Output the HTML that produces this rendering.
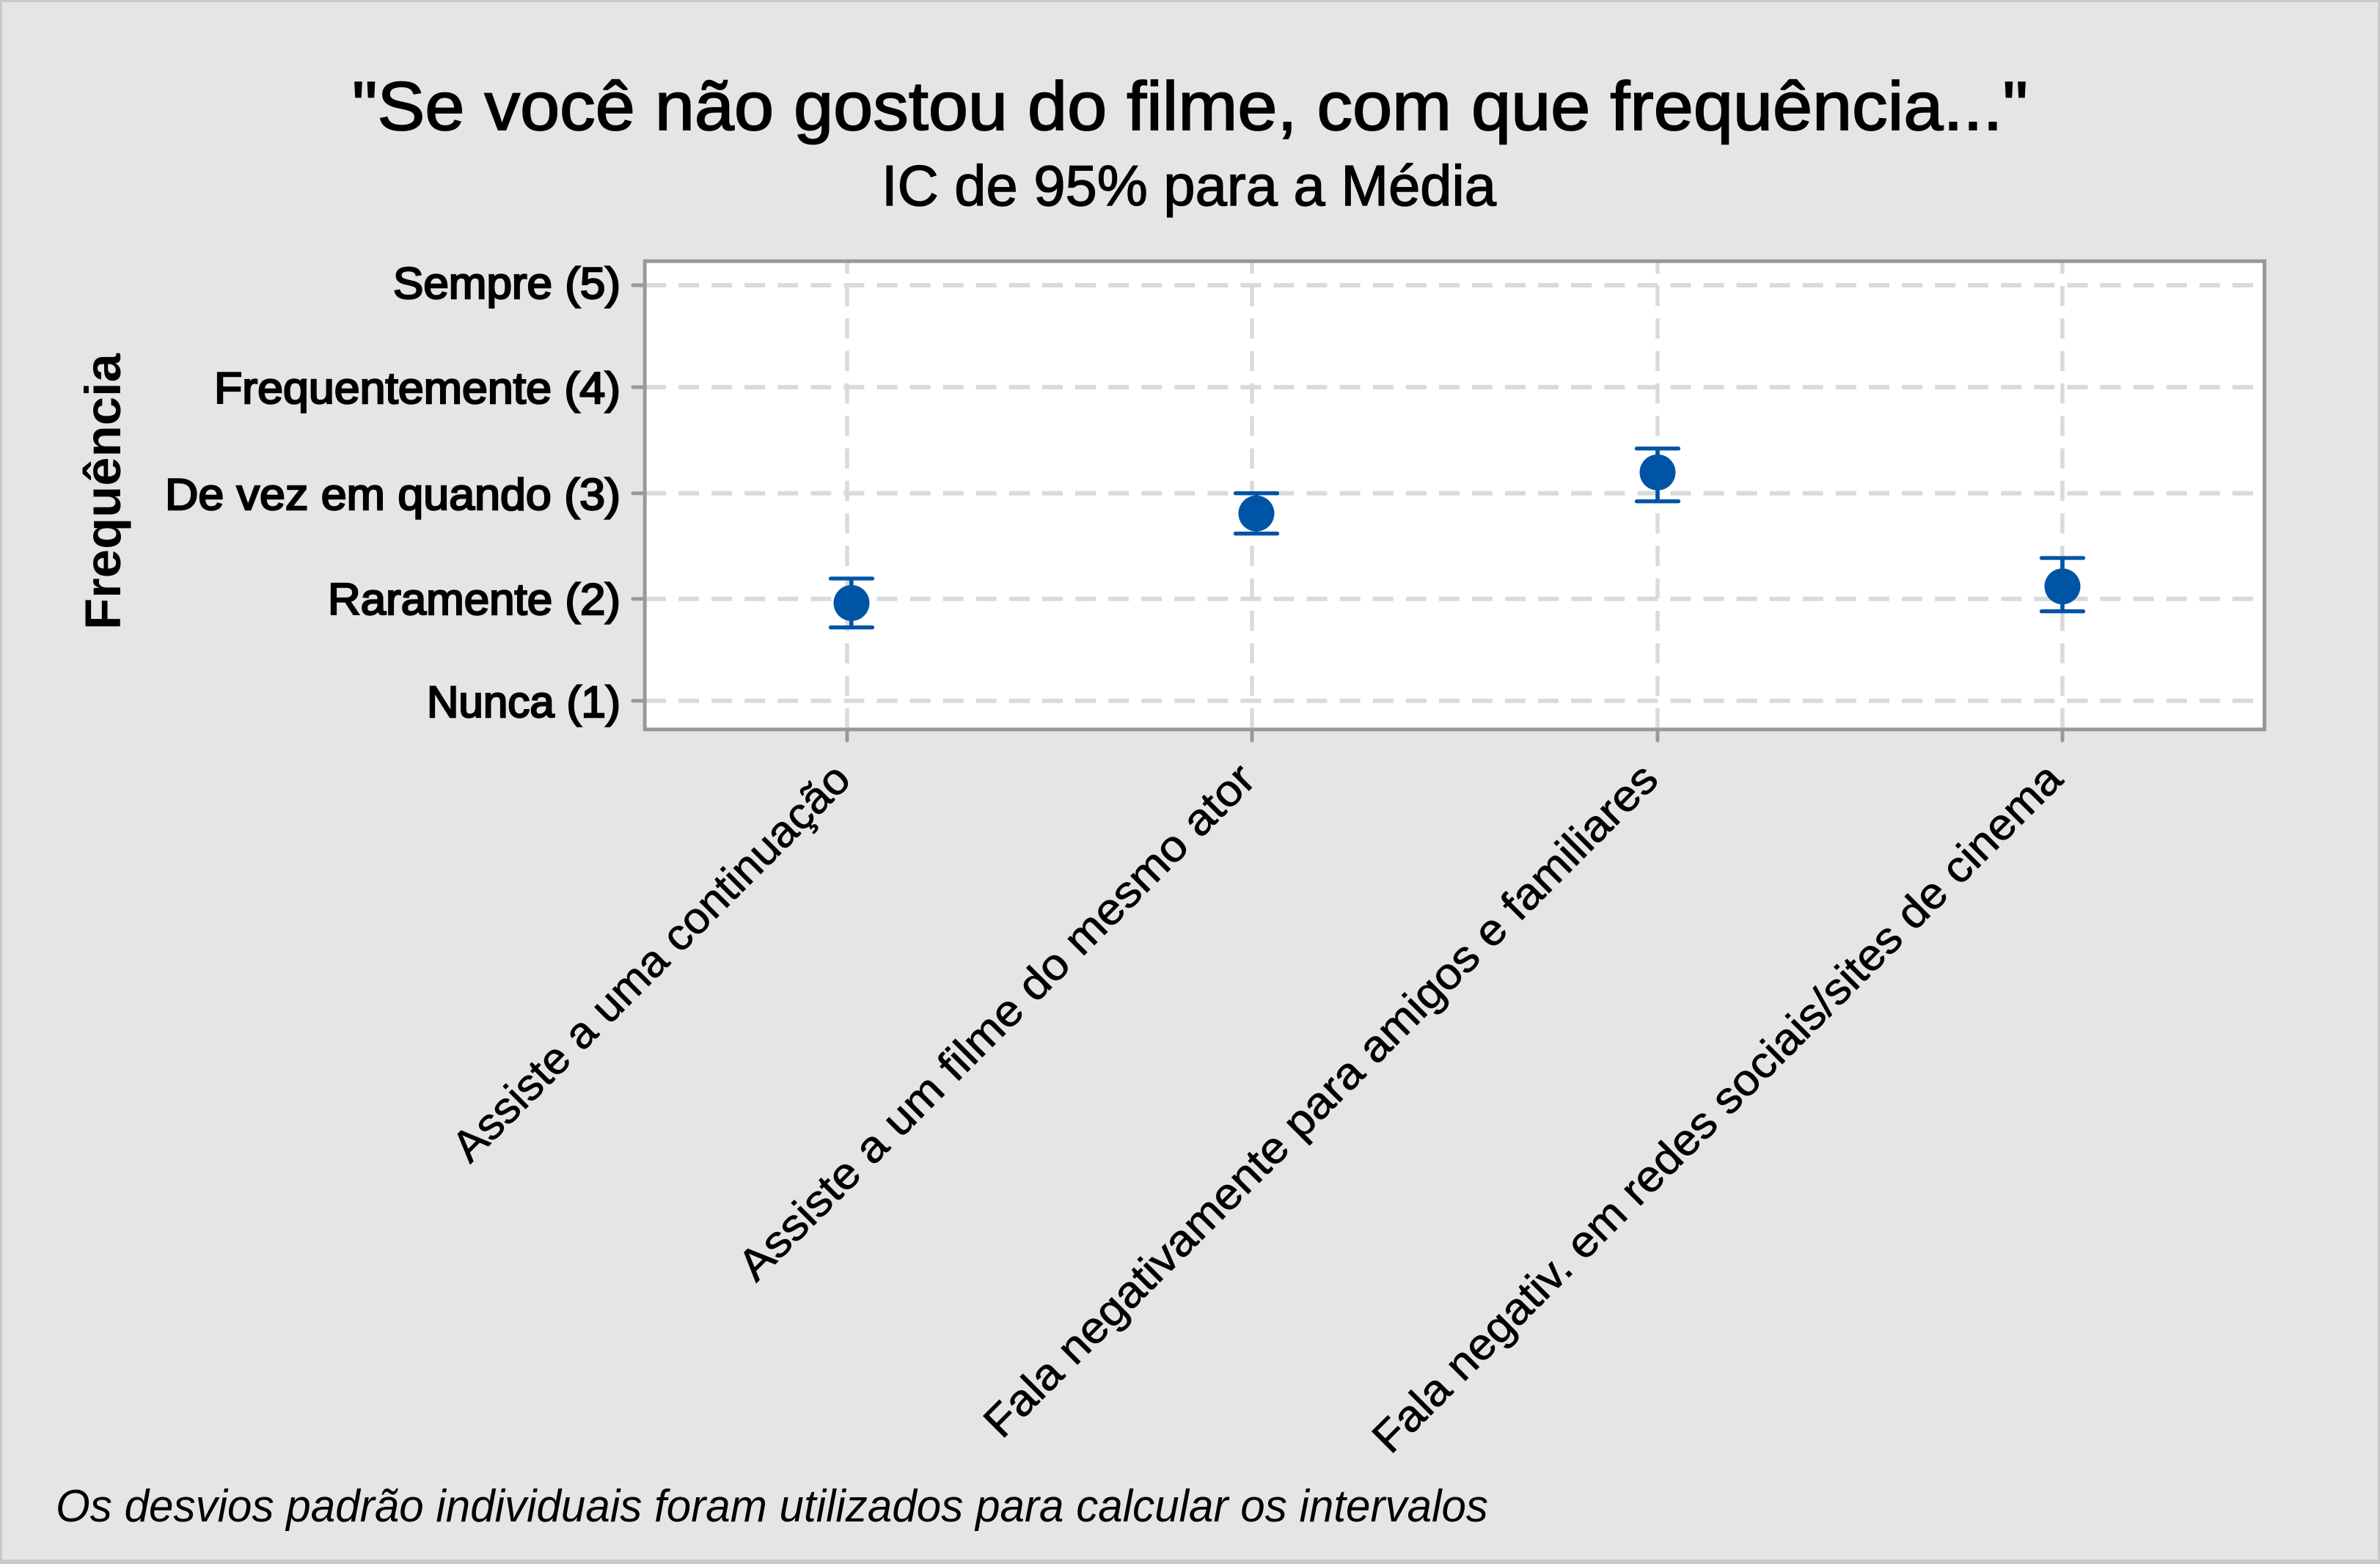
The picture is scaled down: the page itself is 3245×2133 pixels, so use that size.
<!DOCTYPE html>
<html>
<head>
<meta charset="utf-8">
<style>
  html, body { margin: 0; padding: 0; background: #e5e5e5; }
  svg { display: block; }
  text { font-family: "Liberation Sans", "DejaVu Sans", sans-serif; fill: #000; }
</style>
</head>
<body>
<svg width="3245" height="2133" viewBox="0 0 3245 2133" xmlns="http://www.w3.org/2000/svg">
  <!-- background -->
  <rect x="0" y="0" width="3245" height="2133" fill="#e5e5e5"/>
  <!-- outer border -->
  <rect x="1.5" y="1.5" width="3242" height="2130" fill="none" stroke="#c9c9c9" stroke-width="3"/>
  <rect x="0" y="2127" width="3245" height="6" fill="#c9c9c9"/>

  <!-- Title -->
  <text x="480" y="177" font-size="94" textLength="2285" lengthAdjust="spacingAndGlyphs" stroke="#000" stroke-width="1.8">"Se você não gostou do filme, com que frequência..."</text>
  <text x="1202" y="280" font-size="78" textLength="838" lengthAdjust="spacingAndGlyphs" stroke="#000" stroke-width="1.4">IC de 95% para a Média</text>

  <!-- plot area -->
  <rect x="879.2" y="356.2" width="2208.3" height="638.6" fill="#ffffff"/>

  <!-- horizontal gridlines -->
  <g stroke="#dadada" stroke-width="6" stroke-dasharray="28 17.08" fill="none">
    <line x1="880" y1="389" x2="3085" y2="389"/>
    <line x1="880" y1="528" x2="3085" y2="528"/>
    <line x1="880" y1="672.7" x2="3085" y2="672.7"/>
    <line x1="880" y1="816.7" x2="3085" y2="816.7"/>
    <line x1="880" y1="955.7" x2="3085" y2="955.7"/>
  </g>
  <!-- vertical gridlines -->
  <g stroke="#dadada" stroke-width="5.5" stroke-dasharray="27.5 16.8" stroke-dashoffset="12.8" fill="none">
    <line x1="1155" y1="358.5" x2="1155" y2="992"/>
    <line x1="1707" y1="358.5" x2="1707" y2="992"/>
    <line x1="2260" y1="358.5" x2="2260" y2="992"/>
    <line x1="2812" y1="358.5" x2="2812" y2="992"/>
  </g>

  <!-- frame -->
  <rect x="879.2" y="356.2" width="2208.3" height="638.6" fill="none" stroke="#999999" stroke-width="5"/>

  <!-- y ticks -->
  <g stroke="#999999" stroke-width="5" stroke-linecap="round">
    <line x1="863" y1="389" x2="879" y2="389"/>
    <line x1="863" y1="528" x2="879" y2="528"/>
    <line x1="863" y1="672.7" x2="879" y2="672.7"/>
    <line x1="863" y1="816.7" x2="879" y2="816.7"/>
    <line x1="863" y1="955.7" x2="879" y2="955.7"/>
  </g>
  <!-- x ticks -->
  <g stroke="#999999" stroke-width="5" stroke-linecap="round">
    <line x1="1155" y1="996" x2="1155" y2="1010"/>
    <line x1="1707" y1="996" x2="1707" y2="1010"/>
    <line x1="2260" y1="996" x2="2260" y2="1010"/>
    <line x1="2812" y1="996" x2="2812" y2="1010"/>
  </g>

  <!-- y tick labels -->
  <g font-size="60" stroke="#000" stroke-width="2.4">
    <text x="536" y="407" textLength="310" lengthAdjust="spacingAndGlyphs">Sempre (5)</text>
    <text x="292" y="550" textLength="554" lengthAdjust="spacingAndGlyphs">Frequentemente (4)</text>
    <text x="225" y="695" textLength="621" lengthAdjust="spacingAndGlyphs">De vez em quando (3)</text>
    <text x="447" y="838" textLength="399" lengthAdjust="spacingAndGlyphs">Raramente (2)</text>
    <text x="582" y="978" textLength="264" lengthAdjust="spacingAndGlyphs">Nunca (1)</text>
  </g>

  <!-- y axis title -->
  <text transform="translate(164,859) rotate(-90)" x="0" y="0" font-size="69" font-weight="bold" textLength="377" lengthAdjust="spacingAndGlyphs">Frequência</text>

  <!-- data: error bars + markers -->
  <g stroke="#0054a6" fill="none">
    <line x1="1160.8" y1="789" x2="1160.8" y2="855.7" stroke-width="5.7"/>
    <line x1="1132.5" y1="789" x2="1189.5" y2="789" stroke-width="5.3" stroke-linecap="round"/>
    <line x1="1132.5" y1="855.7" x2="1189.5" y2="855.7" stroke-width="5.3" stroke-linecap="round"/>

    <line x1="1713" y1="672.7" x2="1713" y2="727.7" stroke-width="5.7"/>
    <line x1="1684.5" y1="672.7" x2="1741.5" y2="672.7" stroke-width="5.3" stroke-linecap="round"/>
    <line x1="1684.5" y1="727.7" x2="1741.5" y2="727.7" stroke-width="5.3" stroke-linecap="round"/>

    <line x1="2260" y1="611.7" x2="2260" y2="683.7" stroke-width="5.7"/>
    <line x1="2231.5" y1="611.7" x2="2288.5" y2="611.7" stroke-width="5.3" stroke-linecap="round"/>
    <line x1="2231.5" y1="683.7" x2="2288.5" y2="683.7" stroke-width="5.3" stroke-linecap="round"/>

    <line x1="2812" y1="761" x2="2812" y2="833.7" stroke-width="5.7"/>
    <line x1="2783.5" y1="761" x2="2840.5" y2="761" stroke-width="5.3" stroke-linecap="round"/>
    <line x1="2783.5" y1="833.7" x2="2840.5" y2="833.7" stroke-width="5.3" stroke-linecap="round"/>
  </g>
  <g fill="#0054a6">
    <circle cx="1161" cy="822.4" r="24.5"/>
    <circle cx="1713" cy="700.3" r="24.5"/>
    <circle cx="2260" cy="644.3" r="24.5"/>
    <circle cx="2812" cy="799.7" r="24.5"/>
  </g>

  <!-- x category labels -->
  <g font-size="60" stroke="#000" stroke-width="0.8">
    <text transform="translate(641,1588) rotate(-45)" x="0" y="0" textLength="738" lengthAdjust="spacingAndGlyphs">Assiste a uma continuação</text>
    <text transform="translate(1031,1750) rotate(-45)" x="0" y="0" textLength="967" lengthAdjust="spacingAndGlyphs">Assiste a um filme do mesmo ator</text>
    <text transform="translate(1366,1964) rotate(-45)" x="0" y="0" textLength="1270" lengthAdjust="spacingAndGlyphs">Fala negativamente para amigos e familiares</text>
    <text transform="translate(1896,1985) rotate(-45)" x="0" y="0" textLength="1300" lengthAdjust="spacingAndGlyphs">Fala negativ. em redes sociais/sites de cinema</text>
  </g>

  <!-- footnote -->
  <text x="76" y="2075" font-size="62" font-style="italic" textLength="1953" lengthAdjust="spacingAndGlyphs">Os desvios padrão individuais foram utilizados para calcular os intervalos</text>
</svg>
</body>
</html>
